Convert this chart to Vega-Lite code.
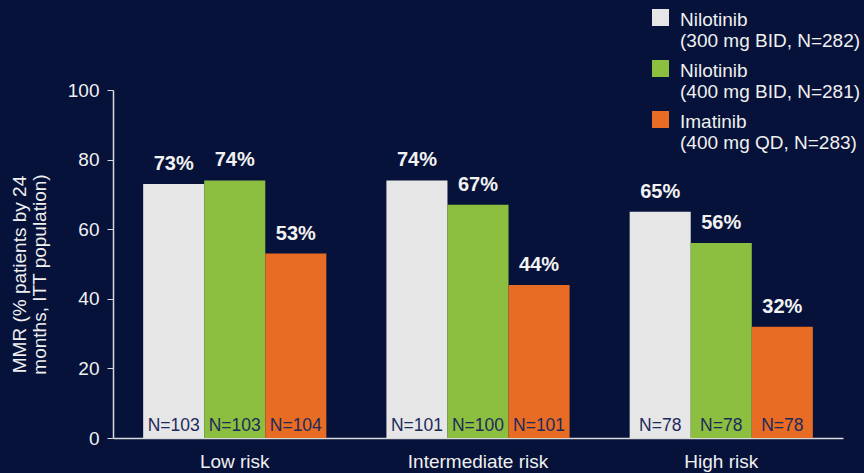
{
  "$schema": "https://vega.github.io/schema/vega-lite/v6.json",
  "width": 730,
  "height": 348,
  "autosize": {"type": "none"},
  "padding": {"left": 113, "top": 90, "right": 21, "bottom": 35},
  "background": "#06123a",
  "config": {
    "view": {"stroke": null},
    "font": "Liberation Sans",
    "text": {"font": "Liberation Sans"}
  },
  "data": {
    "values": [
      {"group": "Low risk", "treatment": "Nilotinib|(300 mg BID, N=282)", "value": 73, "label": "73%", "n": "N=103"},
      {"group": "Low risk", "treatment": "Nilotinib|(400 mg BID, N=281)", "value": 74, "label": "74%", "n": "N=103"},
      {"group": "Low risk", "treatment": "Imatinib|(400 mg QD, N=283)", "value": 53, "label": "53%", "n": "N=104"},
      {"group": "Intermediate risk", "treatment": "Nilotinib|(300 mg BID, N=282)", "value": 74, "label": "74%", "n": "N=101"},
      {"group": "Intermediate risk", "treatment": "Nilotinib|(400 mg BID, N=281)", "value": 67, "label": "67%", "n": "N=100"},
      {"group": "Intermediate risk", "treatment": "Imatinib|(400 mg QD, N=283)", "value": 44, "label": "44%", "n": "N=101"},
      {"group": "High risk", "treatment": "Nilotinib|(300 mg BID, N=282)", "value": 65, "label": "65%", "n": "N=78"},
      {"group": "High risk", "treatment": "Nilotinib|(400 mg BID, N=281)", "value": 56, "label": "56%", "n": "N=78"},
      {"group": "High risk", "treatment": "Imatinib|(400 mg QD, N=283)", "value": 32, "label": "32%", "n": "N=78"}
    ]
  },
  "encoding": {
    "x": {
      "field": "group",
      "type": "nominal",
      "sort": ["Low risk", "Intermediate risk", "High risk"],
      "scale": {"paddingInner": 0.247, "paddingOuter": 0.124},
      "axis": {
        "title": null,
        "labelAngle": 0,
        "labelFontSize": 19,
        "labelColor": "#f0f0f0",
        "labelPadding": 14,
        "ticks": false,
        "domainColor": "#d9d9d9",
        "domainWidth": 1.5
      }
    },
    "xOffset": {
      "field": "treatment",
      "type": "nominal",
      "sort": ["Nilotinib|(300 mg BID, N=282)", "Nilotinib|(400 mg BID, N=281)", "Imatinib|(400 mg QD, N=283)"],
      "scale": {"paddingInner": 0}
    },
    "y": {
      "field": "value",
      "type": "quantitative",
      "scale": {"domain": [0, 100]},
      "axis": {
        "values": [0, 20, 40, 60, 80, 100],
        "grid": false,
        "title": ["MMR (% patients by 24", "months, ITT population)"],
        "titleFontSize": 19,
        "titleFontWeight": "normal",
        "titleColor": "#f0f0f0",
        "titleX": -84,
        "titleY": 184,
        "titleAngle": -90,
        "titleAlign": "center",
        "titleBaseline": "bottom",
        "titleLineHeight": 20,
        "labelFontSize": 19,
        "labelColor": "#f0f0f0",
        "labelPadding": 8,
        "tickSize": 6,
        "tickColor": "#d9d9d9",
        "domainColor": "#d9d9d9",
        "domainWidth": 1.5
      }
    }
  },
  "layer": [
    {
      "mark": {"type": "bar"},
      "encoding": {
        "color": {
          "field": "treatment",
          "type": "nominal",
          "scale": {
            "domain": ["Nilotinib|(300 mg BID, N=282)", "Nilotinib|(400 mg BID, N=281)", "Imatinib|(400 mg QD, N=283)"],
            "range": ["#e6e6e6", "#8cbf3f", "#e86c24"]
          },
          "legend": {
            "title": null,
            "orient": "none",
            "legendX": 538,
            "legendY": -82,
            "symbolType": "square",
            "symbolSize": 289,
            "symbolStrokeWidth": 0,
            "symbolOpacity": 1,
            "labelFontSize": 19,
            "labelColor": "#f0f0f0",
            "labelExpr": "split(datum.label, '|')",
            "labelBaseline": "top",
            "labelOffset": 10,
            "labelLimit": 300,
            "rowPadding": 8,
            "encode": {
              "labels": {"update": {"dy": {"value": -7}}}
            }
          }
        }
      }
    },
    {
      "mark": {"type": "text", "fontSize": 20, "fontWeight": "bold", "color": "#f2f2f2", "baseline": "alphabetic", "dy": -14},
      "encoding": {
        "text": {"field": "label", "type": "nominal"},
        "detail": {"field": "treatment"}
      }
    },
    {
      "mark": {"type": "text", "fontSize": 17.5, "color": "#1e2a5c", "baseline": "alphabetic", "dy": -7},
      "encoding": {
        "y": {"datum": 0, "type": "quantitative"},
        "text": {"field": "n", "type": "nominal"},
        "detail": {"field": "treatment"}
      }
    }
  ]
}
